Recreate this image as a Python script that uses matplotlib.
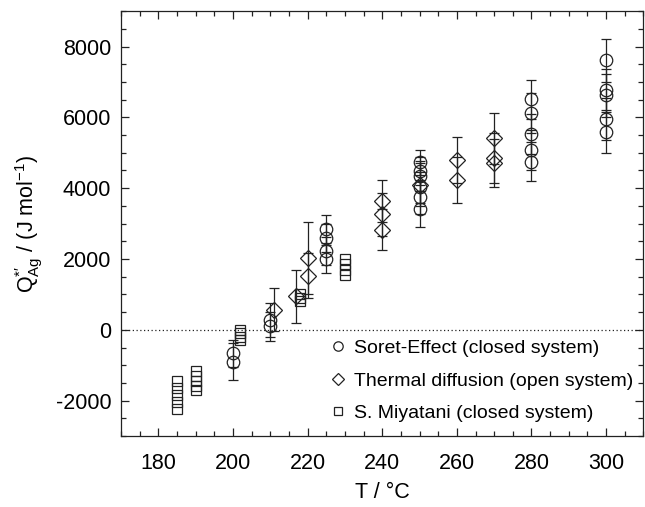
import matplotlib
matplotlib.use("Agg")
import matplotlib.pyplot as plt
from matplotlib.ticker import MultipleLocator

plt.rcParams['font.family'] = ['Liberation Sans', 'DejaVu Sans']
plt.rcParams['mathtext.fontset'] = 'custom'
plt.rcParams['mathtext.rm'] = 'Liberation Sans'
plt.rcParams['mathtext.it'] = 'Liberation Sans:italic'
plt.rcParams['axes.unicode_minus'] = False

# Soret-Effect (closed system)
circ_T = [200, 200, 210, 210, 225, 225, 225, 225,
          250, 250, 250, 250, 250, 250,
          280, 280, 280, 280, 280, 300, 300, 300, 300, 300]
circ_Q = [-660, -900, 284, 95, 2840, 2600, 2220, 2000,
          4730, 4490, 4350, 4020, 3740, 3400,
          6505, 6130, 5530, 5080, 4750, 7610, 6760, 6620, 5960, 5600]
circ_err = [380, 520, 480, 420, 400, 400, 400, 400,
            360, 400, 420, 450, 480, 510,
            560, 560, 560, 560, 560, 600, 600, 600, 600, 600]

# Thermal diffusion (open system)
diam_T = [211, 217, 220, 220, 240, 240, 240, 250, 260, 260, 270, 270, 270]
diam_Q = [567, 945, 2030, 1530, 3640, 3260, 2820, 4100, 4790, 4240, 5410, 4850, 4710]
diam_err = [610, 750, 1010, 630, 600, 600, 580, 600, 650, 650, 720, 700, 690]

# S. Miyatani (closed system)
sq_T = [185, 185, 185, 185, 185, 190, 190, 190, 190, 190,
        202, 202, 202, 202, 218, 218, 218, 230, 230, 230, 230]
sq_Q = [-1450, -1650, -1850, -2050, -2250, -1150, -1300, -1450, -1600, -1700,
        0, -100, -200, -300, 1000, 900, 800, 2000, 1850, 1700, 1550]

c = '#222222'
fig = plt.figure(figsize=(6.45, 5.07), dpi=100)
ax = fig.add_axes([0.1876, 0.140, 0.810, 0.838])

ax.axhline(0, color=c, linestyle=(0, (1, 2)), linewidth=0.9)

ax.errorbar(circ_T, circ_Q, yerr=circ_err, fmt='none', ecolor=c, elinewidth=0.9, capsize=3.5, capthick=0.9)
ax.errorbar(diam_T, diam_Q, yerr=diam_err, fmt='none', ecolor=c, elinewidth=0.9, capsize=3.5, capthick=0.9)

ax.plot(circ_T, circ_Q, 'o', ms=9, mfc='none', mec=c, mew=0.9, ls='none',
        label='Soret-Effect (closed system)')
ax.plot(diam_T, diam_Q, 'D', ms=8, mfc='none', mec=c, mew=0.9, ls='none',
        label='Thermal diffusion (open system)')
ax.plot(sq_T, sq_Q, 's', ms=7, mfc='none', mec=c, mew=0.9, ls='none',
        label='S. Miyatani (closed system)')

ax.set_xlim(170, 310)
ax.set_ylim(-3000, 9000)
ax.xaxis.set_major_locator(MultipleLocator(20))
ax.xaxis.set_minor_locator(MultipleLocator(5))
ax.yaxis.set_major_locator(MultipleLocator(2000))
ax.yaxis.set_minor_locator(MultipleLocator(500))
ax.tick_params(which='both', direction='in', top=True, right=True, colors=c, labelcolor='black')
ax.tick_params(which='major', length=5.5, width=0.9, labelsize=15.5)
ax.tick_params(axis='x', which='major', pad=12)
ax.tick_params(axis='y', which='major', pad=7)
ax.tick_params(which='minor', length=3.5, width=0.9)
for s in ax.spines.values():
    s.set_color(c)
    s.set_linewidth(0.9)

ax.set_xlabel('T / °C', fontsize=15.5, labelpad=6)
ax.set_ylabel(r'Q$^{*\prime}_{\mathrm{Ag}}$ / (J mol$^{\mathrm{-1}}$)', fontsize=15.5, labelpad=8)

ax.legend(loc='lower right', bbox_to_anchor=(1, 0.01), frameon=False, fontsize=14,
          handletextpad=0.35, labelspacing=0.76, borderaxespad=0.1,
          handlelength=1.0, markerscale=0.75)

fig.savefig('out.png', dpi=100)
